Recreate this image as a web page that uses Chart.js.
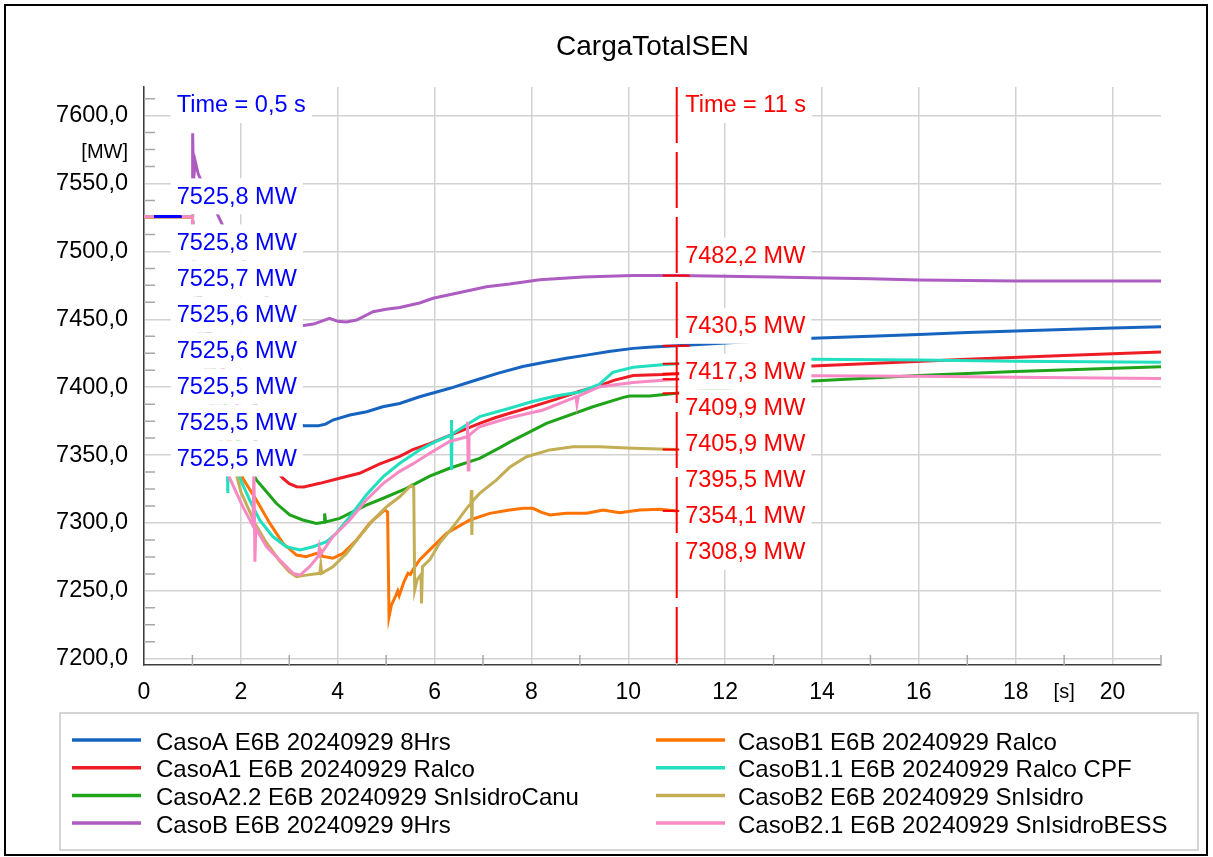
<!DOCTYPE html>
<html>
<head>
<meta charset="utf-8">
<title>CargaTotalSEN</title>
<script src="https://cdn.jsdelivr.net/npm/chart.js@4.4.1/dist/chart.umd.min.js"></script>
<style>
  html, body { margin: 0; padding: 0; background: #fff; }
  #wrap { width: 1213px; height: 857px; }
</style>
</head>
<body>
<div id="wrap"><canvas id="carga" width="1213" height="857"></canvas></div>
<script>
// [time s, MW] samples per case
const casoA = [[0,7525.8],[0.5,7525.8],[1.0,7525.8],[1.05,7470],[1.5,7420],[2.0,7395],[2.5,7382],[3.0,7374],[3.3,7371.6],[3.6,7371.6],[3.75,7372.8],[3.9,7375.8],[4.25,7379.5],[4.6,7381.9],[4.93,7385.6],[5.28,7388],[5.69,7393],[6.3,7399],[6.86,7405.3],[7.3,7410.2],[7.82,7415.2],[8.3,7418.5],[8.72,7421.3],[9.2,7424],[9.6,7426.3],[10.1,7428.6],[10.5,7429.6],[11.0,7430.5],[12,7432.6],[13,7434.5],[13.8,7436],[15,7437.6],[16,7438.9],[17,7440.2],[18,7441.4],[19,7442.5],[20,7443.6],[21,7444.6]];
const casoA1 = [[0,7525.6],[0.5,7525.6],[1.0,7525.6],[1.05,7482],[1.5,7425],[2.0,7380],[2.5,7348],[2.87,7332.9],[3.0,7329],[3.15,7326.7],[3.3,7326.5],[3.63,7329.2],[4.04,7332.9],[4.45,7336.6],[4.87,7343.5],[5.28,7349],[5.55,7354],[5.9,7358.5],[6.25,7363.6],[6.6,7368.5],[6.93,7373.4],[7.25,7377.5],[7.55,7380.8],[8.0,7385.5],[8.5,7391],[9.0,7397],[9.4,7401],[9.7,7405],[10.1,7408.6],[10.7,7409.3],[11.0,7409.9],[12,7412],[13,7414.2],[13.8,7415.6],[15,7417.5],[17,7420.5],[19,7423.3],[21,7426]];
const casoA22 = [[0,7525.5],[0.5,7525.5],[1.0,7525.5],[1.05,7478],[1.5,7405],[2.0,7355],[2.32,7331.7],[2.53,7323],[2.73,7314.5],[3.01,7305.9],[3.28,7302.2],[3.56,7299.7],[3.72,7300.5],[3.73,7307],[3.75,7300.8],[4.04,7303.4],[4.32,7308.3],[4.59,7313.2],[4.94,7318.2],[5.42,7325.5],[5.9,7334.5],[6.31,7340.3],[6.93,7347.6],[7.35,7355.5],[7.55,7359.5],[8.31,7373.4],[9.27,7385.6],[9.9,7392.5],[10.03,7393.5],[10.44,7393.5],[11.0,7395.5],[12,7399],[13,7402.2],[13.8,7404.5],[16,7408.6],[18,7411.6],[21,7415.1]];
const casoB = [[0,7525.8],[0.5,7525.8],[1.0,7525.8],[1.005,7587],[1.02,7552],[1.06,7566],[1.12,7557],[1.6,7521],[2.0,7497],[2.5,7468],[3.0,7450],[3.26,7445.3],[3.5,7446.5],[3.83,7450.8],[4.0,7448.5],[4.18,7448],[4.39,7449.5],[4.73,7455.6],[5.0,7457.4],[5.28,7458.7],[5.69,7462],[5.97,7465.5],[6.45,7469.2],[7.07,7474],[7.55,7476],[8.17,7479.2],[9.07,7481.2],[10.1,7482.3],[11.0,7482.2],[12,7481.8],[13,7481.2],[13.8,7480.7],[15,7479.8],[16,7479],[17,7478.5],[18,7478.2],[21,7478.2]];
const casoB1 = [[0,7525.5],[0.5,7525.5],[1.0,7525.5],[1.05,7468],[1.5,7392],[2.04,7332.9],[2.32,7316.9],[2.6,7299.7],[2.87,7285],[3.15,7276.4],[3.35,7275.1],[3.56,7277.6],[3.62,7276],[3.65,7279],[3.68,7275.5],[3.9,7274],[4.11,7277.6],[4.39,7287.5],[4.66,7299.7],[4.97,7309.6],[5.03,7308],[5.06,7231],[5.11,7239.6],[5.2,7246.5],[5.24,7250],[5.27,7246.5],[5.36,7256],[5.45,7262.9],[5.5,7262],[5.56,7266],[5.69,7272.8],[5.9,7280.2],[6.25,7292.4],[6.73,7302.2],[7.14,7307.1],[7.55,7309.6],[7.83,7310.8],[8.03,7310.8],[8.2,7308],[8.38,7305.9],[8.72,7307.1],[9.14,7307.1],[9.48,7309.6],[9.82,7307.6],[10.24,7309.6],[10.65,7310.1],[11.0,7308.9]];
const casoB11 = [[0,7525.7],[0.5,7525.7],[1.0,7525.7],[1.05,7462],[1.4,7385],[1.7,7345],[1.725,7340],[1.73,7322],[1.735,7345],[1.98,7333],[2.18,7317],[2.39,7302],[2.66,7290],[2.94,7282.5],[3.22,7280.2],[3.49,7282.5],[3.77,7286.2],[3.97,7292.4],[4.25,7304.6],[4.59,7320.6],[4.94,7334.1],[5.28,7344],[5.69,7353.8],[6.0,7359.5],[6.34,7364.8],[6.345,7375.9],[6.355,7339],[6.36,7365.5],[6.93,7378.3],[7.55,7384.5],[8.0,7389.3],[8.5,7393.5],[9.0,7396.5],[9.4,7402],[9.68,7411],[10.1,7414.7],[10.7,7416.5],[11.0,7417.3],[12,7419.5],[13.8,7420.5],[16,7420],[18,7419.2],[21,7418.3]];
const casoB2 = [[0,7525.5],[0.5,7525.5],[1.0,7525.5],[1.05,7468],[1.5,7392],[2.0,7323],[2.3,7299],[2.5,7287],[2.8,7272],[3.0,7264],[3.15,7260.4],[3.35,7261.6],[3.63,7262.9],[3.65,7269],[3.67,7263],[3.9,7267.8],[4.18,7277.6],[4.45,7289.9],[4.73,7302.2],[5.01,7312],[5.28,7319.3],[5.52,7327.9],[5.57,7326],[5.59,7250.7],[5.64,7258.1],[5.72,7262],[5.73,7240.8],[5.75,7267.8],[5.9,7272.8],[6.1,7285],[6.38,7297.2],[6.69,7312],[6.75,7314],[6.76,7324.3],[6.77,7291.2],[6.78,7316],[6.93,7321.8],[7.28,7331.7],[7.55,7341],[7.9,7348.8],[8.38,7353.8],[8.86,7356.2],[9.41,7356.2],[10.1,7355],[11.0,7354.1]];
const casoB21 = [[0,7525.6],[0.5,7525.6],[1.0,7525.6],[1.05,7466],[1.5,7375],[1.77,7333],[2.04,7312],[2.25,7298],[2.27,7340],[2.29,7271.5],[2.31,7296],[2.53,7282.5],[2.8,7272.8],[3.08,7262.9],[3.22,7261.6],[3.42,7267.8],[3.6,7275.5],[3.62,7281],[3.64,7276.5],[3.9,7289.9],[4.25,7302.2],[4.59,7316.9],[4.94,7329.2],[5.28,7338],[5.55,7343.5],[5.9,7351.3],[6.31,7360],[6.67,7363.5],[6.68,7374.6],[6.695,7339],[6.71,7364.5],[6.93,7370.9],[7.35,7375.5],[7.55,7377.5],[8.24,7383.2],[8.86,7391.9],[8.92,7393],[8.94,7387.5],[8.97,7393.5],[9.41,7400.4],[10.1,7403.4],[10.5,7404.6],[11.0,7405.9],[12,7407.5],[13.8,7408.5],[16,7408],[18,7407.3],[21,7406.5]];

const series = [casoA, casoA1, casoA22, casoB, casoB1, casoB11, casoB2, casoB21];
const seriesNames = [
  'CasoA E6B 20240929 8Hrs',
  'CasoA1 E6B 20240929 Ralco',
  'CasoA2.2 E6B 20240929 SnIsidroCanu',
  'CasoB E6B 20240929 9Hrs',
  'CasoB1 E6B 20240929 Ralco',
  'CasoB1.1 E6B 20240929 Ralco CPF',
  'CasoB2 E6B 20240929 SnIsidro',
  'CasoB2.1 E6B 20240929 SnIsidroBESS'
];
const seriesColors = ['#1664c0', '#ee1d25', '#1ea31a', '#ad5cc1', '#ff7300', '#21dfbf', '#c4ae55', '#f78ac4'];

const xTicks = [0, 2, 4, 6, 8, 10, 12, 14, 16, 18, 20];
const yTicks = [7200, 7250, 7300, 7350, 7400, 7450, 7500, 7550, 7600];
const cursorTimes = [0.5, 11];

const FONT = "'Liberation Sans', Arial, sans-serif";
Chart.defaults.font.family = FONT;

const fmtMW = v => v.toFixed(1).replace('.', ',');

// linear interpolation of a case at time t
const valueAt = (pts, t) => {
  for (let i = 0; i < pts.length - 1; i++) {
    const [t0, v0] = pts[i], [t1, v1] = pts[i + 1];
    if (t >= t0 && t <= t1) {
      if (t1 === t0) return v0;
      return v0 + (v1 - v0) * (t - t0) / (t1 - t0);
    }
  }
  return null;
};

const cursors = [
  { time: cursorTimes[0], color: '#0000ff', line: false },
  { time: cursorTimes[1], color: '#ff0000', line: true }
];

const cursorPlugin = {
  id: 'cursors',
  afterDatasetsDraw(chart) {
    const { ctx, chartArea: area, scales: { x, y } } = chart;
    cursors.forEach(c => {
      const cx = x.getPixelForValue(c.time);
      ctx.save();
      ctx.strokeStyle = c.color;
      if (c.line) {
        ctx.lineWidth = 2;
        ctx.setLineDash([56, 9]);
        ctx.beginPath();
        ctx.moveTo(cx, area.top);
        ctx.lineTo(cx, area.bottom);
        ctx.stroke();
        ctx.setLineDash([]);
      }

      const readings = series
        .map(s => valueAt(s, c.time))
        .filter(v => v !== null)
        .sort((a, b) => b - a);

      // little marks where each curve crosses the cursor
      ctx.lineWidth = 2;
      readings.forEach(v => {
        const py = y.getPixelForValue(v);
        ctx.beginPath();
        ctx.moveTo(cx - 14, py);
        ctx.lineTo(cx + 13, py);
        ctx.stroke();
      });

      // stack the value labels so they don't overlap
      const slots = [];
      let pushed = false;
      readings.forEach((v, i) => {
        let want = y.getPixelForValue(v) - 20;
        if (i > 0 && want < slots[i - 1] + 36) {
          want = slots[i - 1] + (pushed ? 36 : 46);
          pushed = true;
        }
        slots.push(want);
      });

      ctx.font = '23.5px ' + FONT;
      ctx.textBaseline = 'middle';
      ctx.textAlign = 'left';
      const texts = [{ text: 'Time = ' + String(c.time).replace('.', ',') + ' s', y: area.top + 18 }]
        .concat(readings.map((v, i) => ({ text: fmtMW(v) + ' MW', y: slots[i] })));
      texts.forEach(t => {
        const w = ctx.measureText(t.text).width;
        ctx.fillStyle = '#ffffff';
        ctx.fillRect(cx + 2.5, t.y - 18, w + 12, 36);
      });
      ctx.fillStyle = c.color;
      texts.forEach(t => ctx.fillText(t.text, cx + 8.5, t.y + 1));
      ctx.restore();
    });
  }
};

const decorPlugin = {
  id: 'decor',
  beforeDraw(chart) {
    const { ctx, width, height } = chart;
    ctx.save();
    ctx.fillStyle = '#ffffff';
    ctx.fillRect(0, 0, width, height);
    ctx.restore();
  },
  beforeDatasetsDraw(chart) {
    // minor ticks along both axes
    const { ctx, chartArea: area, scales: { x, y } } = chart;
    ctx.save();
    ctx.strokeStyle = '#a8a8a8';
    ctx.lineWidth = 1.5;
    ctx.beginPath();
    for (let v = 7200; v <= y.max; v += 12.5) {
      if (v % 50 === 0) continue;
      const py = y.getPixelForValue(v);
      ctx.moveTo(area.left, py);
      ctx.lineTo(area.left + 11, py);
    }
    for (let t = 1; t <= x.max; t += 2) {
      const px = x.getPixelForValue(t);
      ctx.moveTo(px, area.bottom);
      ctx.lineTo(px, area.bottom - 10);
    }
    ctx.stroke();
    ctx.restore();
  },
  afterDraw(chart) {
    const { ctx, chartArea: area, scales: { x, y } } = chart;
    ctx.save();
    ctx.fillStyle = '#000';
    ctx.textBaseline = 'middle';

    ctx.font = '28px ' + FONT;
    ctx.textAlign = 'center';
    ctx.fillText('CargaTotalSEN', (area.left + area.right) / 2, 47);

    ctx.font = '20px ' + FONT;
    ctx.textAlign = 'right';
    ctx.fillText('[MW]', area.left - 16, y.getPixelForValue(7575) + 3);
    ctx.textAlign = 'center';
    ctx.fillText('[s]', x.getPixelForValue(19), area.bottom + 27);

    // legend, two columns
    ctx.strokeStyle = '#c8c8c8';
    ctx.lineWidth = 1.5;
    ctx.strokeRect(60, 713, 1138, 137);
    ctx.font = '24px ' + FONT;
    ctx.textAlign = 'left';
    const colLine = [72, 656], colText = [156, 738];
    seriesNames.forEach((name, i) => {
      const col = Math.floor(i / 4), row = i % 4;
      const ry = 743 + row * 27.7;
      ctx.strokeStyle = seriesColors[i];
      ctx.lineWidth = 3.5;
      ctx.beginPath();
      ctx.moveTo(colLine[col], ry - 3);
      ctx.lineTo(colLine[col] + 69, ry - 3);
      ctx.stroke();
      ctx.fillStyle = '#000';
      ctx.fillText(name, colText[col], ry);
    });

    // outer frame
    ctx.strokeStyle = '#000';
    ctx.lineWidth = 2;
    ctx.strokeRect(5, 5, 1202, 850);
    ctx.restore();
  }
};

const datasets = series.map((pts, i) => ({
  label: seriesNames[i],
  data: pts.map(([t, v]) => ({ x: t, y: v })),
  borderColor: seriesColors[i],
  borderWidth: 3,
  pointRadius: 0,
  fill: false,
  tension: 0,
  order: series.length - i
}));

new Chart(document.getElementById('carga'), {
  type: 'line',
  data: { datasets },
  options: {
    responsive: false,
    animation: false,
    events: [],
    layout: { padding: { top: 87, right: 52, bottom: 152, left: 0 } },
    plugins: {
      legend: { display: false },
      tooltip: { enabled: false },
      title: { display: false }
    },
    scales: {
      x: {
        type: 'linear',
        min: 0,
        max: 21,
        afterFit(s) { s.height = 40; },
        afterBuildTicks(s) { s.ticks = xTicks.map(v => ({ value: v })); },
        ticks: { autoSkip: false, maxRotation: 0, padding: 14, color: '#000', font: { size: 23 }, callback: v => String(v) },
        grid: { color: '#d2d2d2', lineWidth: 1.5, drawTicks: false },
        border: { color: '#3c3c3c', width: 1.5 }
      },
      y: {
        type: 'linear',
        min: 7195.4,
        max: 7621.1,
        afterFit(s) { s.width = 144; },
        afterBuildTicks(s) { s.ticks = yTicks.map(v => ({ value: v })); },
        ticks: { autoSkip: false, padding: 16, color: '#000', font: { size: 23.5 }, callback: v => fmtMW(v) },
        grid: { color: '#d2d2d2', lineWidth: 1.5, drawTicks: false },
        border: { color: '#3c3c3c', width: 1.5 }
      }
    }
  },
  plugins: [decorPlugin, cursorPlugin]
});
</script>
</body>
</html>
